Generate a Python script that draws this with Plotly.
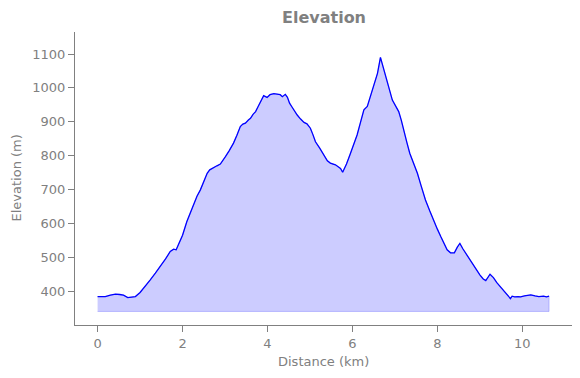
import plotly.graph_objects as go

# Distance along the route (km)
dist_km = [0, 0.1, 0.18, 0.3, 0.42, 0.52, 0.61, 0.71, 0.8, 0.89,
           1.0, 1.12, 1.24, 1.36, 1.48, 1.6, 1.71, 1.79, 1.85, 1.91,
           2.0, 2.1, 2.17, 2.26, 2.34, 2.42, 2.5, 2.58, 2.64, 2.70,
           2.81, 2.89, 2.95, 3.01, 3.1, 3.2, 3.28, 3.36, 3.42, 3.48,
           3.55, 3.60, 3.66, 3.72, 3.78, 3.83, 3.91, 3.99, 4.06, 4.15,
           4.23, 4.30, 4.35, 4.42, 4.47, 4.52, 4.57, 4.62, 4.70, 4.78,
           4.86, 4.93, 5.01, 5.07, 5.13, 5.23, 5.33, 5.41, 5.48, 5.52,
           5.60, 5.68, 5.72, 5.77, 5.86, 5.94, 6.03, 6.11, 6.19, 6.27,
           6.35, 6.41, 6.47, 6.53, 6.59, 6.66, 6.72, 6.78, 6.86, 6.94,
           7.0, 7.05, 7.09, 7.15, 7.21, 7.28, 7.35, 7.41, 7.47, 7.53,
           7.62, 7.72, 7.82, 7.92, 8.0, 8.08, 8.16, 8.23, 8.31, 8.40,
           8.47, 8.53, 8.6, 8.67, 8.74, 8.82, 8.9, 9.0, 9.08, 9.14,
           9.24, 9.32, 9.4, 9.49, 9.57, 9.65, 9.72, 9.76, 9.82, 9.9,
           9.96, 10.05, 10.12, 10.2, 10.3, 10.39, 10.5, 10.57, 10.63]

# Elevation (m)
elevation_m = [384, 383, 384, 388, 391, 390, 388, 381, 383, 384,
               396, 413, 433, 453, 473, 495, 517, 524, 522, 540,
               565, 605, 628, 658, 680, 699, 722, 748, 758, 763,
               770, 775, 785, 797, 815, 837, 860, 886, 893, 896,
               905, 910, 922, 930, 945, 958, 977, 972, 980, 983,
               982, 980, 974, 981, 972, 955, 945, 935, 920, 908,
               898, 894, 881, 862, 841, 822, 802, 785, 778, 776,
               773, 766, 762, 751, 775, 802, 832, 861, 898, 935,
               945, 970, 994, 1018, 1043, 1090, 1065, 1033, 1000, 964,
               950, 938, 930, 905, 871, 840, 807, 787, 770, 748,
               710, 669, 637, 605, 583, 561, 540, 522, 513, 513,
               530, 541, 525, 511, 497, 482, 467, 448, 436, 431,
               450, 440, 425, 412, 398, 389, 378, 385, 383, 384,
               383, 386, 388, 389, 386, 384, 385, 383, 385]

fill_base_m = 340

x_ticks = [0, 2, 4, 6, 8, 10]
y_ticks = [400, 500, 600, 700, 800, 900, 1000, 1100]

title_text = "Elevation"
x_label = "Distance (km)"
y_label = "Elevation (m)"

grey = "#808080"
# page has an 8px body margin; size the figure so it fills the 580x378 window
OFF = 8
W, H = 580 - OFF, 378 - OFF
L, R, T, B = 75 - OFF, 8, 32 - OFF, 53
PW, PH = W - L - R, H - T - B

fig = go.Figure()

# shaded area polygon (profile closed down to the base level)
poly_x = dist_km + [dist_km[-1], dist_km[0]]
poly_y = elevation_m + [fill_base_m, fill_base_m]
fig.add_trace(go.Scatter(
    x=poly_x, y=poly_y, mode="lines", fill="toself",
    fillcolor="rgba(0,0,255,0.2)",
    line=dict(color="rgba(0,0,255,0.2)", width=1),
    hoverinfo="skip", showlegend=False))

fig.add_trace(go.Scatter(
    x=dist_km, y=elevation_m, mode="lines",
    line=dict(color="blue", width=1.3),
    showlegend=False))

# pixel positions (in page coords) of the text centres
title_y_px, xlab_y_px, ylab_x_px = 18, 361, 16

fig.update_layout(
    width=W, height=H,
    margin=dict(l=L, r=R, t=T, b=B, autoexpand=False),
    paper_bgcolor="white", plot_bgcolor="white",
    font=dict(family="DejaVu Sans", size=13, color=grey),
    annotations=[
        dict(text="<b>%s</b>" % title_text, xref="paper", yref="paper",
             x=0.5, y=((H - B) - (title_y_px - OFF)) / PH,
             xanchor="center", yanchor="middle",
             showarrow=False, font=dict(size=16, color=grey)),
        dict(text=x_label, xref="paper", yref="paper",
             x=0.5, y=-((xlab_y_px - OFF) - (H - B)) / PH,
             xanchor="center", yanchor="middle",
             showarrow=False, font=dict(size=13, color=grey)),
        dict(text=y_label, xref="paper", yref="paper", textangle=-90,
             x=-(L - (ylab_x_px - OFF)) / PW, y=0.5,
             xanchor="center", yanchor="middle",
             showarrow=False, font=dict(size=13, color=grey)),
    ],
)

fig.update_xaxes(
    range=[-0.532, 11.17], tickvals=x_ticks, automargin=False,
    showgrid=False, zeroline=False,
    showline=True, linecolor=grey, linewidth=1,
    ticks="outside", ticklen=6, tickcolor=grey,
    tickfont=dict(size=13, color=grey),
)
fig.update_yaxes(
    range=[300, 1165], tickvals=y_ticks, automargin=False,
    showgrid=False, zeroline=False,
    showline=True, linecolor=grey, linewidth=1,
    ticks="outside", ticklen=6, tickcolor=grey,
    tickfont=dict(size=13, color=grey),
)

fig.write_html("out.html")
